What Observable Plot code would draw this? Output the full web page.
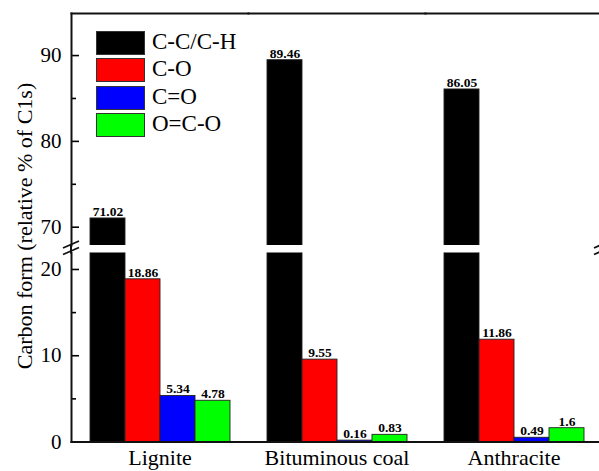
<!DOCTYPE html>
<html><head><meta charset="utf-8">
<script src="https://cdn.jsdelivr.net/npm/d3@7"></script>
<script src="https://cdn.jsdelivr.net/npm/@observablehq/plot@0.6"></script>
<style>
body{margin:0;background:#fff;}
#chart{position:relative;width:599px;height:471px;overflow:hidden;background:#fff;font-family:"Liberation Serif","Times New Roman",serif;color:#000;}
#chart svg, #chart svg text{font-family:"Liberation Serif","Times New Roman",serif !important;}
.legend{position:absolute;left:96px;top:31px;}
.legend .item{position:absolute;left:0;height:24px;white-space:nowrap;}
.legend .sw{position:absolute;left:0;top:0;width:47px;height:22px;border:1px solid #333;}
.legend .lb{position:absolute;left:56px;top:-4px;font-size:23px;line-height:30px;}
.ytitle{position:absolute;font-size:22px;white-space:nowrap;transform:translate(-50%,-50%) rotate(-90deg);}
</style></head><body><div id="chart"></div>
<script>
// ---- data ----
const categories = ["Lignite", "Bituminous coal", "Anthracite"];
const series = ["C-C/C-H", "C-O", "C=O", "O=C-O"];
const valCC  = [71.02, 89.46, 86.05];
const valCO  = [18.86, 9.55, 11.86];
const valC2O = [5.34, 0.16, 0.49];
const valOCO = [4.78, 0.83, 1.6];
const colors = ["#000000", "#ff0000", "#0000ff", "#00ff00"];
const upperTicks = [70, 80, 90], upperMinor = [75, 85];
const lowerTicks = [0, 10, 20], lowerMinor = [5, 15];
const upperDomain = [67.87, 94.9];
const lowerDomain = [0, 21.91];
const yTitle = "Carbon form (relative % of C1s)";

const seriesValues = [valCC, valCO, valC2O, valOCO];
const rows = categories.flatMap((c, i) => series.map((s, j) => ({category: c, series: s, value: seriesValues[j][i]})));

// ---- layout ----
const W = 599, H = 471;
const leftX = 71, rightEdge = 602;
const topPanelH = 245, topMargin = 13;
const lowGap = 7.5, lowMarginBottom = 29.5;
const font = '"Liberation Serif","Times New Roman",serif';

const chart = document.getElementById("chart");

function panel({height, marginTop, marginBottom, yDomain, ticks, minor, isBottom}) {
  const inDomain = d => d.value >= yDomain[0] && d.value <= yDomain[1];
  const marks = [
    Plot.barY(rows, {fx: "category", x: "series", y: "value", fill: "series", stroke: "#222", strokeWidth: 0.9, clip: true}),
    Plot.text(rows.filter(inDomain), {fx: "category", x: "series", y: "value", text: d => String(d.value),
      lineAnchor: "bottom", dy: -2.5, fontWeight: "bold", fontSize: 13.5, fontFamily: font, fill: "#000"}),
    Plot.axisY({ticks, tickSize: -8, tickPadding: 18, fontSize: 21, fontFamily: font, label: null, strokeWidth: 1.6}),
    Plot.axisY({ticks: minor, tickSize: -5, tickFormat: () => "", label: null, strokeWidth: 1.6}),
    Plot.frame({anchor: "left", facetAnchor: "left", strokeWidth: 2, stroke: "#111"})
  ];
  if (isBottom) {
    marks.push(Plot.frame({anchor: "bottom", strokeWidth: 2, stroke: "#111"}));
    marks.push(Plot.axisFx({anchor: "bottom", tickSize: 0, tickPadding: 7, fontSize: 22, fontFamily: font, label: null}));
  } else {
    marks.push(Plot.frame({anchor: "top", strokeWidth: 2, stroke: "#111"}));
  }
  return Plot.plot({
    width: W, height, marginTop, marginBottom, marginLeft: leftX, marginRight: W - rightEdge,
    style: {fontFamily: font, background: "transparent", color: "#000", overflow: "visible"},
    fx: {domain: categories, range: [leftX, rightEdge], padding: 0, axis: isBottom ? undefined : null, label: null},
    x: {domain: series, paddingInner: 0, paddingOuter: 0.476, axis: null},
    y: {domain: yDomain},
    color: {domain: series, range: colors},
    marks
  });
}

const topPanel = panel({height: topPanelH, marginTop: topMargin, marginBottom: 0, yDomain: upperDomain, ticks: upperTicks, minor: upperMinor, isBottom: false});
topPanel.style.position = "absolute"; topPanel.style.top = "0px"; topPanel.style.left = "0px";
chart.appendChild(topPanel);

const lowH = H - topPanelH;
const lowPanel = panel({height: lowH, marginTop: lowGap, marginBottom: lowMarginBottom, yDomain: lowerDomain, ticks: lowerTicks, minor: lowerMinor, isBottom: true});
lowPanel.style.position = "absolute"; lowPanel.style.top = topPanelH + "px"; lowPanel.style.left = "0px";
chart.appendChild(lowPanel);

// ---- axis break overlay ----
const ov = d3.select(chart).append("svg").attr("width", W).attr("height", H)
  .style("position", "absolute").style("left", 0).style("top", 0).style("overflow", "hidden");
const gTop = topPanelH, gBot = topPanelH + lowGap;
ov.append("line").attr("x1", leftX).attr("x2", leftX).attr("y1", gTop - 1).attr("y2", gBot + 1).attr("stroke", "#111").attr("stroke-width", 2);
for (const xc of [leftX, rightEdge]) {
  for (const yc of [gTop - 0.5, gBot - 1.5]) {
    ov.append("line").attr("x1", xc - 8).attr("y1", yc + 3.5).attr("x2", xc + 8).attr("y2", yc - 3.5)
      .attr("stroke", "#111").attr("stroke-width", 1.8);
  }
}

// ---- legend ----
const lg = document.createElement("div"); lg.className = "legend";
series.forEach((s, j) => {
  const it = document.createElement("div"); it.className = "item"; it.style.top = (j * 27.3) + "px";
  const sw = document.createElement("div"); sw.className = "sw"; sw.style.background = colors[j];
  const lb = document.createElement("div"); lb.className = "lb"; lb.textContent = s;
  it.appendChild(sw); it.appendChild(lb); lg.appendChild(it);
});
chart.appendChild(lg);

// ---- y title ----
const yt = document.createElement("div"); yt.className = "ytitle"; yt.textContent = yTitle;
yt.style.left = "25px"; yt.style.top = "226px";
chart.appendChild(yt);
</script>
</body></html>
